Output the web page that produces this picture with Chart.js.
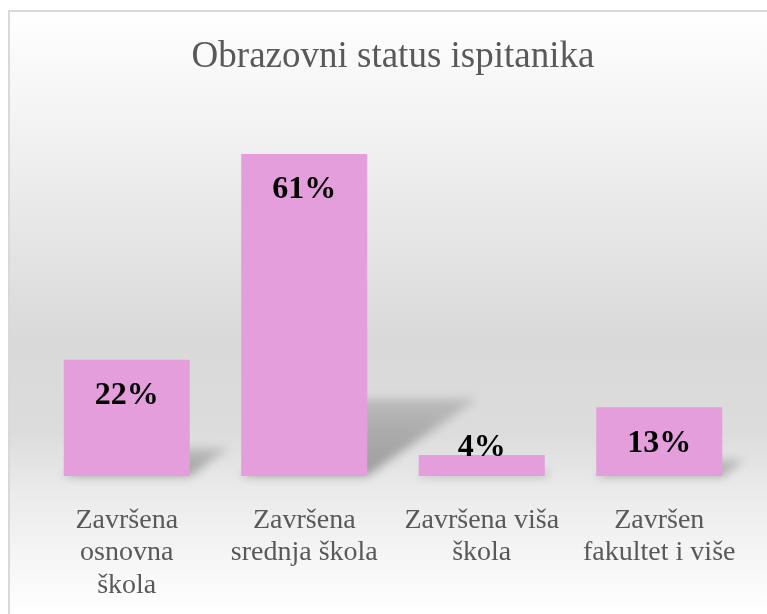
<!DOCTYPE html>
<html>
<head>
<meta charset="utf-8">
<title>Obrazovni status ispitanika</title>
<script src="https://cdn.jsdelivr.net/npm/chart.js@4.4.1/dist/chart.umd.min.js"></script>
<style>
  html, body { margin: 0; padding: 0; background: #fff; }
  #wrap { width: 767px; height: 614px; }
</style>
</head>
<body>
<div id="wrap"><canvas id="chart" width="767" height="614"></canvas></div>
<script>
// podaci
const categories = [
  ['Završena', 'osnovna', 'škola'],
  ['Završena', 'srednja škola'],
  ['Završena viša', 'škola'],
  ['Završen', 'fakultet i više']
];
const values = [22, 61, 4, 13];
const valueLabels = ['22%', '61%', '4%', '13%'];

const SERIF = "'Liberation Serif', 'Times New Roman', serif";
const GREY_TEXT = '#595959';
const BAR_COLOR = '#E39EDB';

// pozadina s gradijentom i okvir
const backgroundPlugin = {
  id: 'bg',
  beforeDraw(chart) {
    const { ctx, width, height } = chart;
    ctx.save();
    ctx.fillStyle = '#ffffff';
    ctx.fillRect(0, 0, width, height);
    const g = ctx.createLinearGradient(0, 10, 0, height);
    g.addColorStop(0.0, '#ffffff');
    g.addColorStop(0.2, '#f2f2f2');
    g.addColorStop(0.55, '#d9d9d9');
    g.addColorStop(0.7, '#dcdcdc');
    g.addColorStop(0.8, '#ebebeb');
    g.addColorStop(1.0, '#ffffff');
    ctx.fillStyle = g;
    ctx.fillRect(9, 11, width, height);
    ctx.strokeStyle = '#d9d9d9';
    ctx.lineWidth = 2;
    ctx.strokeRect(9, 11, width + 20, height + 20);
    ctx.restore();
  }
};

// perspektivna sjena iza stupaca
const shadowPlugin = {
  id: 'barShadow',
  beforeDatasetsDraw(chart) {
    const { ctx } = chart;
    const meta = chart.getDatasetMeta(0);
    meta.data.forEach(bar => {
      const { x, y, base, width } = bar.getProps(['x', 'y', 'base', 'width'], true);
      ctx.save();
      ctx.filter = 'blur(5px)';
      ctx.transform(1, 0, -0.34, 0.24, 0.34 * base, 0.76 * base);
      const g = ctx.createLinearGradient(0, base, 0, y);
      g.addColorStop(0, 'rgba(0,0,0,0.32)');
      g.addColorStop(1, 'rgba(0,0,0,0.14)');
      ctx.fillStyle = g;
      ctx.fillRect(x - width / 2, y, width, base - y);
      ctx.restore();
    });
  }
};

// oznake vrijednosti
const valueLabelPlugin = {
  id: 'valueLabels',
  afterDatasetsDraw(chart) {
    const { ctx } = chart;
    const meta = chart.getDatasetMeta(0);
    ctx.save();
    ctx.font = "bold 32px " + SERIF;
    ctx.fillStyle = '#000000';
    ctx.textAlign = 'center';
    ctx.textBaseline = 'middle';
    meta.data.forEach((bar, i) => {
      const { x, y, base } = bar.getProps(['x', 'y', 'base'], true);
      const ly = Math.min(y + 36, base - 28);
      ctx.fillText(valueLabels[i], x, ly);
    });
    ctx.restore();
  }
};

new Chart(document.getElementById('chart'), {
  type: 'bar',
  data: {
    labels: categories,
    datasets: [{
      data: values,
      backgroundColor: BAR_COLOR,
      borderWidth: 0,
      barPercentage: 0.71,
      categoryPercentage: 1.0
    }]
  },
  options: {
    responsive: false,
    animation: false,
    devicePixelRatio: 1,
    layout: { padding: { left: 38, right: 19, top: 0, bottom: 0 } },
    plugins: {
      legend: { display: false },
      tooltip: { enabled: false },
      title: {
        display: true,
        text: 'Obrazovni status ispitanika',
        color: GREY_TEXT,
        font: { family: SERIF, size: 37, weight: 'normal', lineHeight: 1.2 },
        padding: { top: 35, bottom: 27 }
      }
    },
    scales: {
      x: {
        grid: { display: false, drawTicks: false },
        border: { display: false },
        afterFit(scale) { scale.height = 138; },
        ticks: {
          color: GREY_TEXT,
          padding: 28,
          maxRotation: 0,
          autoSkip: false,
          font: { family: SERIF, size: 28, lineHeight: 1.16 }
        }
      },
      y: {
        display: false,
        min: 0,
        max: 70
      }
    }
  },
  plugins: [backgroundPlugin, shadowPlugin, valueLabelPlugin]
});
</script>
</body>
</html>
